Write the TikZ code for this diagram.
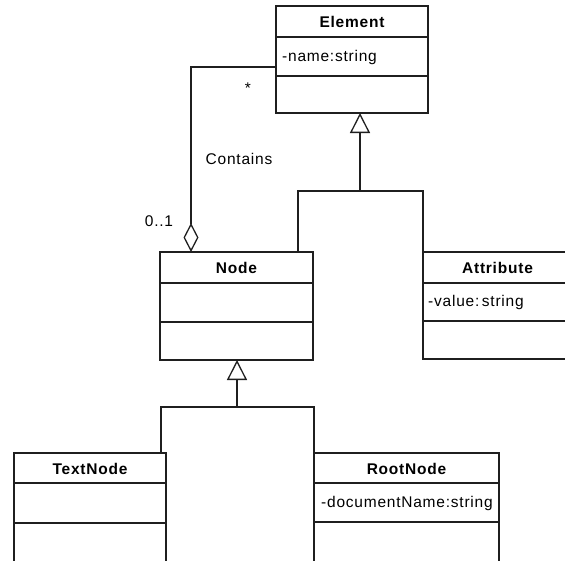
\documentclass[tikz,border=0pt]{standalone}
\usepackage{fontspec}
\setmainfont[LetterSpace=5]{Liberation Sans}
\usetikzlibrary{arrows.meta}
\tikzset{
  umlbox/.style={draw=black!88, line width=1.3pt, fill=white, inner sep=0pt, outer sep=0pt, anchor=north west},
  sep/.style={draw=black!88, line width=1.3pt},
  conn/.style={draw=black!88, line width=1.3pt},
  gen/.style={conn, -{Triangle[open, length=20pt, width=20pt, fill=white]}},
  agg/.style={conn, -{Diamond[open, length=29pt, width=15pt, fill=white]}},
  title/.style={font=\fontsize{15.5}{18}\selectfont\bfseries, inner sep=0pt},
  attr/.style={font=\fontsize{15.5}{18}\selectfont, inner sep=0pt, anchor=west},
  lbl/.style={font=\fontsize{15.5}{18}\selectfont, inner sep=0pt}
}
\begin{document}
\begin{tikzpicture}[x=1pt,y=-1pt]
\useasboundingbox[fill=white] (0,0) rectangle (565,560);
\clip (0,0) rectangle (565,560);
% boxes
\node[umlbox, minimum width=152pt, minimum height=107pt] (element) at (276,6) {};
\node[umlbox, minimum width=153pt, minimum height=108pt] (node) at (160,252) {};
\node[umlbox, minimum width=149pt, minimum height=107pt] (attribute) at (423,252) {};
\node[umlbox, minimum width=152pt, minimum height=112pt] (textnode) at (14,453) {};
\node[umlbox, minimum width=185pt, minimum height=112pt] (rootnode) at (314,453) {};
% compartments
\draw[sep] (element.west |- 0,37) -- (element.east |- 0,37);
\draw[sep] (element.west |- 0,76) -- (element.east |- 0,76);
\draw[sep] (node.west |- 0,283) -- (node.east |- 0,283);
\draw[sep] (node.west |- 0,322) -- (node.east |- 0,322);
\draw[sep] (attribute.west |- 0,283) -- (attribute.east |- 0,283);
\draw[sep] (attribute.west |- 0,321) -- (attribute.east |- 0,321);
\draw[sep] (textnode.west |- 0,483) -- (textnode.east |- 0,483);
\draw[sep] (textnode.west |- 0,523) -- (textnode.east |- 0,523);
\draw[sep] (rootnode.west |- 0,483) -- (rootnode.east |- 0,483);
\draw[sep] (rootnode.west |- 0,522) -- (rootnode.east |- 0,522);
% texts
\node[title] (elementname) at (352,21.5) {Element};
\node[attr] (elementattr) at (282,57) {-name:string};
\node[title] (nodename) at (236.5,268) {Node};
\node[title] (attributename) at (497.5,268) {Attribute};
\node[attr] (attributeattr) at (428,302) {-value:\,string};
\node[title] (textnodename) at (90,468.5) {TextNode};
\node[title] (rootnodename) at (406.5,468.5) {RootNode};
\node[attr] (rootnodeattr) at (321,503) {-documentName:string};
% coordinates
\coordinate (elemtip) at (360,113);
\coordinate (elemjoin) at (360,191);
\coordinate (nodeup) at (298,252);
\coordinate (nodetip) at (237,360);
\coordinate (nodejoin) at (237,407);
\coordinate (textup) at (161,453);
\coordinate (assocstart) at (276,67);
\coordinate (diamtip) at (191,252);
% generalizations
\draw[conn] (nodeup) |- (elemjoin);
\draw[conn] (attribute.north west) |- (elemjoin);
\draw[gen] (elemjoin) -- (elemtip);
\draw[conn] (textup) |- (nodejoin);
\draw[conn] (rootnode.north west) |- (nodejoin);
\draw[gen] (nodejoin) -- (nodetip);
% aggregation
\draw[agg] (assocstart) -| (diamtip);
% labels
\node[lbl] (star) at (248,88) {*};
\node[lbl] (contains) at (239,159) {Contains};
\node[lbl] (mult) at (159,221) {0..1};
\end{tikzpicture}
\end{document}
